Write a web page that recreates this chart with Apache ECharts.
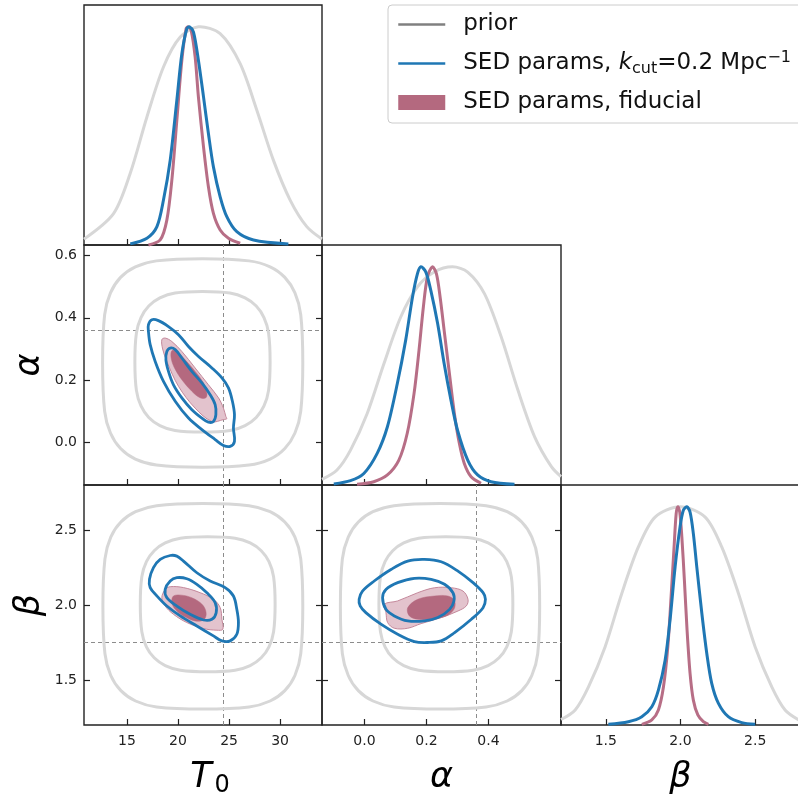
<!DOCTYPE html>
<html>
<head>
<meta charset="utf-8">
<script src="https://cdn.jsdelivr.net/npm/echarts@6/dist/echarts.min.js"></script>
<style>
  html, body { margin: 0; padding: 0; background: #fff; }
  #c { width: 798px; height: 798px; }
</style>
</head>
<body>
<div id="c"></div>
<script>
// ---- parameter ranges, tick values and fiducial (true) values ----
const T0_RANGE = [10.8, 34.1];
const ALPHA_RANGE = [-0.137, 0.634];
const BETA_RANGE = [1.2, 2.8];
const DENS_RANGE = [0, 1.1];
const T0_TICKS = [15, 20, 25, 30];
const ALPHA_X_TICKS = [0.0, 0.2, 0.4];
const ALPHA_Y_TICKS = [0.0, 0.2, 0.4, 0.6];
const BETA_TICKS = [1.5, 2.0, 2.5];
const TRUE_T0 = 24.45, TRUE_ALPHA = 0.36, TRUE_BETA = 1.75;

const NAME_PRIOR = 'prior';
const NAME_KCUT = 'SED params, k_cut=0.2 Mpc^-1';
const NAME_FID = 'SED params, fiducial';

// ---- 1D marginals: [value, normalised density] ----
const t0Prior = [[10.8,0.027],[13.69,0.144],[15.32,0.328],[16.96,0.587],[18.58,0.816],[20.22,0.953],[22.0,1.0],[24.13,0.969],[26.09,0.831],[27.72,0.618],[29.34,0.389],[30.98,0.206],[32.61,0.084],[34.1,0.027]];
const t0Kcut = [[15.33,0.005],[16.96,0.031],[17.94,0.084],[18.58,0.206],[19.24,0.389],[19.89,0.664],[20.38,0.877],[20.87,0.992],[21.13,1.0],[21.52,0.976],[22.0,0.847],[22.5,0.679],[22.98,0.511],[23.47,0.358],[24.13,0.221],[24.78,0.130],[25.76,0.061],[27.39,0.023],[30.81,0.005]];
const t0Fid = [[17.11,0.0],[18.26,0.023],[18.91,0.114],[19.40,0.297],[19.89,0.572],[20.38,0.847],[20.80,0.992],[21.0,1.0],[21.29,0.984],[21.68,0.862],[22.0,0.679],[22.5,0.45],[22.98,0.267],[23.47,0.145],[24.13,0.069],[24.94,0.031],[26.09,0.008]];

const alphaPrior = [[-0.137,0.026],[-0.0885,0.069],[-0.045,0.160],[0.0088,0.328],[0.063,0.557],[0.117,0.770],[0.171,0.908],[0.225,0.976],[0.284,1.0],[0.333,0.976],[0.387,0.877],[0.441,0.679],[0.495,0.435],[0.549,0.221],[0.603,0.084],[0.634,0.038]];
const alphaKcut = [[-0.099,0.005],[-0.045,0.02],[-0.002,0.053],[0.041,0.145],[0.074,0.267],[0.106,0.465],[0.133,0.664],[0.155,0.862],[0.171,0.969],[0.182,1.0],[0.198,0.976],[0.214,0.892],[0.236,0.74],[0.257,0.557],[0.279,0.389],[0.3,0.252],[0.333,0.114],[0.365,0.046],[0.408,0.015],[0.484,0.003]];
const alphaFid = [[-0.024,0.003],[0.030,0.015],[0.074,0.046],[0.111,0.114],[0.138,0.237],[0.160,0.42],[0.176,0.618],[0.190,0.816],[0.203,0.953],[0.219,1.0],[0.232,0.969],[0.244,0.862],[0.257,0.709],[0.274,0.511],[0.29,0.328],[0.306,0.191],[0.322,0.099],[0.344,0.038],[0.376,0.008]];

const betaPrior = [[1.2,0.025],[1.295,0.069],[1.384,0.175],[1.495,0.358],[1.607,0.603],[1.718,0.816],[1.83,0.953],[1.997,1.0],[2.165,0.953],[2.276,0.816],[2.388,0.603],[2.5,0.358],[2.611,0.175],[2.7,0.069],[2.8,0.02]];
const betaKcut = [[1.517,0.003],[1.651,0.015],[1.741,0.038],[1.808,0.084],[1.852,0.160],[1.897,0.297],[1.930,0.481],[1.964,0.725],[1.997,0.908],[2.019,0.984],[2.042,1.0],[2.064,0.976],[2.086,0.877],[2.109,0.725],[2.143,0.511],[2.176,0.328],[2.209,0.191],[2.254,0.099],[2.32,0.038],[2.41,0.011],[2.5,0.003]];
const betaFid = [[1.741,0.003],[1.808,0.023],[1.852,0.069],[1.886,0.175],[1.915,0.358],[1.937,0.587],[1.957,0.816],[1.971,0.969],[1.982,1.0],[1.995,0.976],[2.009,0.862],[2.026,0.664],[2.044,0.435],[2.064,0.237],[2.086,0.114],[2.116,0.046],[2.153,0.015],[2.187,0.003]];

// ---- 2D credible contours (68% inner, 95% outer): [x, y] ----
// T0 vs alpha
const t0AlphaPriorOuter = [[32.22,0.255],[32.02,0.410],[31.45,0.480],[30.46,0.530],[29.02,0.564],[26.95,0.583],[22.42,0.590],[17.89,0.583],[15.83,0.564],[14.38,0.530],[13.39,0.480],[12.82,0.410],[12.62,0.255],[12.82,0.100],[13.39,0.030],[14.38,-0.020],[15.83,-0.054],[17.89,-0.073],[22.42,-0.080],[26.95,-0.073],[29.02,-0.054],[30.46,-0.020],[31.45,0.030],[32.02,0.100]];
const t0AlphaPriorInner = [[29.02,0.259],[28.87,0.351],[28.42,0.401],[27.66,0.438],[26.57,0.464],[25.09,0.480],[22.40,0.485],[19.71,0.480],[18.23,0.464],[17.14,0.438],[16.38,0.401],[15.93,0.351],[15.78,0.259],[15.93,0.167],[16.38,0.117],[17.14,0.080],[18.23,0.054],[19.71,0.038],[22.40,0.033],[25.09,0.038],[26.57,0.054],[27.66,0.080],[28.42,0.117],[28.87,0.167]];
const t0AlphaKcutOuter = [[17.11,0.378],[17.45,0.394],[18.09,0.391],[19.07,0.372],[20.05,0.346],[21.03,0.308],[22.01,0.276],[23.32,0.239],[24.30,0.207],[24.94,0.175],[25.33,0.132],[25.53,0.089],[25.43,0.046],[25.53,0.003],[25.11,-0.013],[24.45,-0.010],[23.64,0.009],[22.34,0.041],[21.03,0.078],[19.73,0.132],[18.58,0.196],[17.77,0.260],[17.28,0.314],[17.11,0.356]];
const t0AlphaKcutInner = [[19.24,0.303],[19.73,0.298],[20.38,0.271],[21.36,0.228],[22.34,0.191],[23.15,0.153],[23.64,0.121],[23.71,0.089],[23.47,0.067],[22.98,0.065],[22.34,0.078],[21.36,0.105],[20.38,0.143],[19.56,0.185],[19.07,0.228],[18.82,0.265],[18.91,0.292]];
const t0AlphaFidOuter = [[18.42,0.330],[18.75,0.335],[19.40,0.324],[20.38,0.292],[21.68,0.239],[22.98,0.185],[23.97,0.143],[24.45,0.110],[24.69,0.083],[24.78,0.076],[24.45,0.073],[23.32,0.067],[21.68,0.110],[20.05,0.180],[18.91,0.260],[18.50,0.300]];
const t0AlphaFidInner = [[19.40,0.294],[19.89,0.292],[20.70,0.265],[21.68,0.228],[22.50,0.191],[22.83,0.158],[22.73,0.143],[22.17,0.143],[21.36,0.164],[20.38,0.201],[19.66,0.239],[19.33,0.271]];

// T0 vs beta
const t0BetaPriorOuter = [[32.22,1.991],[32.02,2.307],[31.45,2.452],[30.46,2.553],[29.02,2.622],[26.96,2.662],[22.44,2.676],[17.91,2.662],[15.85,2.622],[14.41,2.553],[13.42,2.452],[12.85,2.307],[12.65,1.991],[12.85,1.675],[13.42,1.530],[14.41,1.429],[15.85,1.360],[17.91,1.320],[22.44,1.306],[26.96,1.320],[29.02,1.360],[30.46,1.429],[31.45,1.530],[32.02,1.675]];
const t0BetaPriorInner = [[29.51,2.005],[29.36,2.188],[28.91,2.289],[28.15,2.362],[27.07,2.414],[25.59,2.445],[22.91,2.455],[20.23,2.445],[18.75,2.414],[17.67,2.362],[16.91,2.289],[16.46,2.188],[16.31,2.005],[16.46,1.822],[16.91,1.721],[17.67,1.648],[18.75,1.596],[20.23,1.565],[22.91,1.555],[25.59,1.565],[27.07,1.596],[28.15,1.648],[28.91,1.721],[29.36,1.822]];
const t0BetaKcutOuter = [[19.24,2.330],[19.89,2.326],[20.54,2.293],[21.85,2.215],[23.15,2.160],[24.62,2.116],[25.43,2.060],[25.76,1.971],[25.92,1.883],[25.76,1.805],[25.11,1.761],[24.30,1.761],[23.47,1.794],[21.85,1.860],[20.22,1.927],[18.91,1.993],[17.94,2.060],[17.28,2.116],[17.21,2.171],[17.60,2.249],[18.26,2.304]];
const t0BetaKcutInner = [[19.89,2.182],[20.87,2.175],[21.85,2.138],[22.83,2.082],[23.64,2.016],[23.74,1.949],[23.32,1.905],[22.50,1.900],[21.19,1.938],[19.89,1.993],[18.91,2.049],[18.75,2.104],[19.24,2.160]];
const t0BetaFidOuter = [[18.75,2.104],[19.24,2.122],[20.54,2.116],[22.17,2.082],[23.47,2.038],[24.13,1.983],[24.30,1.905],[24.39,1.838],[23.81,1.832],[22.50,1.843],[20.87,1.883],[19.56,1.938],[18.75,1.993],[18.42,2.049]];
const t0BetaFidInner = [[19.56,2.060],[20.54,2.064],[21.68,2.038],[22.50,1.993],[22.76,1.938],[22.50,1.900],[21.68,1.894],[20.54,1.927],[19.73,1.971],[19.40,2.016]];

// alpha vs beta
const alphaBetaPriorOuter = [[0.5652,1.991],[0.5589,2.307],[0.5399,2.452],[0.5074,2.553],[0.4602,2.622],[0.3923,2.662],[0.2438,2.676],[0.0953,2.662],[0.0274,2.622],[-0.0198,2.553],[-0.0523,2.452],[-0.0713,2.307],[-0.0777,1.991],[-0.0713,1.675],[-0.0523,1.530],[-0.0198,1.429],[0.0274,1.360],[0.0953,1.320],[0.2438,1.306],[0.3923,1.320],[0.4602,1.360],[0.5074,1.429],[0.5399,1.530],[0.5589,1.675]];
const alphaBetaPriorInner = [[0.4787,2.005],[0.4738,2.188],[0.4591,2.289],[0.4343,2.362],[0.3988,2.414],[0.3504,2.445],[0.2627,2.455],[0.1750,2.445],[0.1266,2.414],[0.0911,2.362],[0.0663,2.289],[0.0516,2.188],[0.0466,2.005],[0.0516,1.822],[0.0663,1.721],[0.0911,1.648],[0.1266,1.596],[0.1750,1.565],[0.2627,1.555],[0.3504,1.565],[0.3988,1.596],[0.4343,1.648],[0.4591,1.721],[0.4738,1.822]];
const alphaBetaKcutOuter = [[-0.0172,2.038],[-0.0064,2.093],[0.0314,2.160],[0.0855,2.237],[0.1395,2.293],[0.1935,2.304],[0.2475,2.288],[0.3016,2.226],[0.3502,2.149],[0.3826,2.082],[0.3902,2.038],[0.3826,1.982],[0.3448,1.905],[0.2908,1.816],[0.2475,1.761],[0.2043,1.750],[0.1611,1.756],[0.1071,1.805],[0.0531,1.872],[0.0044,1.949],[-0.0139,1.994]];
const alphaBetaKcutInner = [[0.0584,2.049],[0.0693,2.104],[0.1071,2.149],[0.1611,2.178],[0.2151,2.171],[0.2583,2.138],[0.2854,2.082],[0.2886,2.027],[0.2746,1.971],[0.2367,1.916],[0.1935,1.894],[0.1395,1.894],[0.0963,1.927],[0.0693,1.971]];
const alphaBetaFidOuter = [[0.0639,2.005],[0.1071,2.027],[0.1719,2.082],[0.2259,2.115],[0.2800,2.115],[0.3178,2.093],[0.3340,2.038],[0.3286,1.994],[0.3016,1.960],[0.2475,1.916],[0.1827,1.876],[0.1395,1.845],[0.0963,1.845],[0.0747,1.883],[0.0693,1.949]];
const alphaBetaFidInner = [[0.1395,1.982],[0.1719,2.038],[0.2259,2.060],[0.2692,2.060],[0.2908,2.027],[0.2886,1.971],[0.2638,1.927],[0.2151,1.905],[0.1719,1.905],[0.1449,1.927]];

// ---- styling ----
const FONT = 'DejaVu Sans';
const C_PRIOR = '#d7d7d7';
const C_PRIOR_KEY = '#808080';
const C_KCUT = '#1f77b4';
const C_FID_LINE = '#b76e86';
const C_FID_DARK = '#b4697f';
const C_FID_LIGHT = '#e3c3cd';
const C_FID_EDGE = '#c4889b';
const C_AXIS = '#222';

// panel boxes of the triangle
const panels = [
  { left: 84,  top: 5,   width: 238, height: 240 }, // T0 marginal
  { left: 84,  top: 245, width: 238, height: 240 }, // T0 - alpha
  { left: 322, top: 245, width: 239, height: 240 }, // alpha marginal
  { left: 84,  top: 485, width: 238, height: 240 }, // T0 - beta
  { left: 322, top: 485, width: 239, height: 240 }, // alpha - beta
  { left: 561, top: 485, width: 239, height: 240 }  // beta marginal
];

const grid = panels.map(p => Object.assign({
  show: true, borderColor: C_AXIS, borderWidth: 1.4, backgroundColor: 'transparent',
  containLabel: false, outerBoundsMode: 'none'
}, p));

function fmt(decimals) { return v => Number(v).toFixed(decimals); }

function tickedAxis(gridIndex, range, ticks, decimals, showLabel, margin, extra) {
  return Object.assign({
    type: 'value', gridIndex, min: range[0], max: range[1],
    axisLine: { show: false, onZero: false },
    splitLine: { show: false },
    axisTick: { show: true, inside: true, length: 6, customValues: ticks, lineStyle: { color: C_AXIS, width: 1.2 } },
    axisLabel: {
      show: showLabel, customValues: ticks, margin,
      fontFamily: FONT, fontSize: 14, color: C_AXIS, formatter: fmt(decimals)
    }
  }, extra || {});
}

function densityAxis(gridIndex) {
  return { type: 'value', gridIndex, min: DENS_RANGE[0], max: DENS_RANGE[1], show: false, axisLine: { onZero: false } };
}

const bigName = { fontFamily: FONT, fontStyle: 'italic', fontSize: 35, color: '#000', verticalAlign: 'middle' };

const xAxis = [
  tickedAxis(0, T0_RANGE, T0_TICKS, 0, false, 9),
  tickedAxis(1, T0_RANGE, T0_TICKS, 0, false, 9),
  tickedAxis(2, ALPHA_RANGE, ALPHA_X_TICKS, 1, false, 9),
  tickedAxis(3, T0_RANGE, T0_TICKS, 0, true, 9, {
    name: '{t|T}{s|0}', nameLocation: 'middle', nameGap: 53,
    nameTextStyle: {
      verticalAlign: 'middle', padding: [0, 0, 0, 14],
      rich: {
        t: { fontFamily: FONT, fontStyle: 'italic', fontSize: 35, lineHeight: 40, color: '#000' },
        s: { fontFamily: FONT, fontSize: 24, lineHeight: 24, verticalAlign: 'bottom', color: '#000', padding: [0, 0, 0, 3] }
      }
    }
  }),
  tickedAxis(4, ALPHA_RANGE, ALPHA_X_TICKS, 1, true, 9, { name: 'α', nameLocation: 'middle', nameGap: 53, nameTextStyle: bigName }),
  tickedAxis(5, BETA_RANGE, BETA_TICKS, 1, true, 9, { name: 'β', nameLocation: 'middle', nameGap: 53, nameTextStyle: bigName })
];

const yAxis = [
  densityAxis(0),                                                                          // 0
  tickedAxis(1, ALPHA_RANGE, ALPHA_Y_TICKS, 1, true, 7,                                     // 1
    { name: 'α', nameLocation: 'middle', nameGap: 54, nameRotate: 90, nameTextStyle: bigName }),
  tickedAxis(1, ALPHA_RANGE, ALPHA_Y_TICKS, 1, false, 7, { position: 'right' }),            // 2
  densityAxis(2),                                                                          // 3
  tickedAxis(3, BETA_RANGE, BETA_TICKS, 1, true, 7,                                         // 4
    { name: 'β', nameLocation: 'middle', nameGap: 54, nameRotate: 90, nameTextStyle: bigName }),
  tickedAxis(3, BETA_RANGE, BETA_TICKS, 1, false, 7, { position: 'right' }),                // 5
  tickedAxis(4, BETA_RANGE, BETA_TICKS, 1, false, 7),                                       // 6
  tickedAxis(4, BETA_RANGE, BETA_TICKS, 1, false, 7, { position: 'right' }),                // 7
  densityAxis(5)                                                                           // 8
];

// ---- series builders ----
// legend key entries (line icons); they carry no points
function legendKey(name, color) {
  return {
    type: 'line', name, xAxisIndex: 0, yAxisIndex: 0, data: [],
    symbol: 'none', lineStyle: { color, width: 3 }, itemStyle: { color },
    silent: true, animation: false
  };
}

// smooth density curve through the sampled points
function marginal(name, pts, xi, yi, color, z) {
  return {
    type: 'custom', name, coordinateSystem: 'cartesian2d',
    xAxisIndex: xi, yAxisIndex: yi, data: pts, z, silent: true, animation: false,
    renderItem: (params, api) => {
      if (params.dataIndex !== 0) return null;
      return {
        type: 'polyline',
        shape: { points: pts.map(p => api.coord(p)), smooth: 0.3 },
        style: { fill: null, stroke: color, lineWidth: 3, lineJoin: 'round' }
      };
    }
  };
}

// closed credible-region outline or fill
function contour(name, pts, xi, yi, style, z, markLine) {
  const s = {
    type: 'custom', name, coordinateSystem: 'cartesian2d',
    xAxisIndex: xi, yAxisIndex: yi, data: pts, z, silent: true, animation: false,
    renderItem: (params, api) => {
      if (params.dataIndex !== 0) return null;
      return {
        type: 'polygon',
        shape: { points: pts.map(p => api.coord(p)), smooth: 0.35 },
        style: Object.assign({}, style)
      };
    }
  };
  if (markLine) s.markLine = markLine;
  return s;
}

function truthLines(list) {
  return {
    silent: true, symbol: ['none', 'none'], animation: false, z: 1,
    label: { show: false },
    lineStyle: { color: '#8c8c8c', width: 1, type: [4, 3] },
    data: list
  };
}

const priorStyle = { fill: null, stroke: C_PRIOR, lineWidth: 3 };
const kcutStyle = { fill: null, stroke: C_KCUT, lineWidth: 2.8 };
const fidLight = { fill: C_FID_LIGHT, stroke: C_FID_EDGE, lineWidth: 1 };
const fidDark = { fill: C_FID_DARK, stroke: C_FID_DARK, lineWidth: 0.5 };

const series = [
  legendKey(NAME_PRIOR, C_PRIOR_KEY),
  legendKey(NAME_KCUT, C_KCUT),
  legendKey(NAME_FID, C_FID_DARK),

  // marginals
  marginal(NAME_PRIOR, t0Prior, 0, 0, C_PRIOR, 2),
  marginal(NAME_KCUT, t0Kcut, 0, 0, C_KCUT, 5),
  marginal(NAME_FID, t0Fid, 0, 0, C_FID_LINE, 4),
  marginal(NAME_PRIOR, alphaPrior, 2, 3, C_PRIOR, 2),
  marginal(NAME_KCUT, alphaKcut, 2, 3, C_KCUT, 5),
  marginal(NAME_FID, alphaFid, 2, 3, C_FID_LINE, 4),
  marginal(NAME_PRIOR, betaPrior, 5, 8, C_PRIOR, 2),
  marginal(NAME_KCUT, betaKcut, 5, 8, C_KCUT, 5),
  marginal(NAME_FID, betaFid, 5, 8, C_FID_LINE, 4),

  // T0 - alpha
  contour(NAME_PRIOR, t0AlphaPriorOuter, 1, 1, priorStyle, 2,
    truthLines([{ xAxis: TRUE_T0 }, { yAxis: TRUE_ALPHA }])),
  contour(NAME_PRIOR, t0AlphaPriorInner, 1, 1, priorStyle, 2),
  contour(NAME_FID, t0AlphaFidOuter, 1, 1, fidLight, 3),
  contour(NAME_FID, t0AlphaFidInner, 1, 1, fidDark, 4),
  contour(NAME_KCUT, t0AlphaKcutOuter, 1, 1, kcutStyle, 5),
  contour(NAME_KCUT, t0AlphaKcutInner, 1, 1, kcutStyle, 5),

  // T0 - beta
  contour(NAME_PRIOR, t0BetaPriorOuter, 3, 4, priorStyle, 2,
    truthLines([{ xAxis: TRUE_T0 }, { yAxis: TRUE_BETA }])),
  contour(NAME_PRIOR, t0BetaPriorInner, 3, 4, priorStyle, 2),
  contour(NAME_FID, t0BetaFidOuter, 3, 4, fidLight, 3),
  contour(NAME_FID, t0BetaFidInner, 3, 4, fidDark, 4),
  contour(NAME_KCUT, t0BetaKcutOuter, 3, 4, kcutStyle, 5),
  contour(NAME_KCUT, t0BetaKcutInner, 3, 4, kcutStyle, 5),

  // alpha - beta
  contour(NAME_PRIOR, alphaBetaPriorOuter, 4, 6, priorStyle, 2,
    truthLines([{ xAxis: TRUE_ALPHA }, { yAxis: TRUE_BETA }])),
  contour(NAME_PRIOR, alphaBetaPriorInner, 4, 6, priorStyle, 2),
  contour(NAME_FID, alphaBetaFidOuter, 4, 6, fidLight, 3),
  contour(NAME_FID, alphaBetaFidInner, 4, 6, fidDark, 4),
  contour(NAME_KCUT, alphaBetaKcutOuter, 4, 6, kcutStyle, 5),
  contour(NAME_KCUT, alphaBetaKcutInner, 4, 6, kcutStyle, 5)
];

const legendText = {};
legendText[NAME_PRIOR] = '{sp|}prior';
legendText[NAME_KCUT] = '{sp|}SED params, {k|k}{sub|cut}=0.2 Mpc{sup|−1}';
legendText[NAME_FID] = '{sp|}SED params, fiducial';

const hiddenMarker = { color: 'rgba(0,0,0,0)', borderWidth: 0, opacity: 0 };

const option = {
  backgroundColor: '#fff',
  animation: false,
  grid, xAxis, yAxis, series,
  legend: {
    orient: 'vertical', left: 388, top: 5,
    padding: [6, 24, 7, 9], itemGap: 12,
    itemWidth: 47, itemHeight: 15,
    borderColor: '#cccccc', borderWidth: 1, borderRadius: 4,
    backgroundColor: 'rgba(255,255,255,0.85)',
    selectedMode: false, z: 20,
    data: [
      { name: NAME_PRIOR, lineStyle: { color: C_PRIOR_KEY, width: 2.5 }, itemStyle: hiddenMarker },
      { name: NAME_KCUT, lineStyle: { color: C_KCUT, width: 2.5 }, itemStyle: hiddenMarker },
      { name: NAME_FID, icon: 'rect', itemStyle: { color: C_FID_DARK, borderWidth: 0 } }
    ],
    formatter: name => legendText[name],
    textStyle: {
      fontFamily: FONT, fontSize: 23, color: '#111', lineHeight: 27,
      rich: {
        sp: { width: 13 },
        k: { fontFamily: FONT, fontStyle: 'italic', fontSize: 23, color: '#111' },
        sub: { fontFamily: FONT, fontSize: 16, lineHeight: 15, verticalAlign: 'bottom', color: '#111' },
        sup: { fontFamily: FONT, fontSize: 16, lineHeight: 15, verticalAlign: 'top', color: '#111' }
      }
    }
  }
};

const chart = echarts.init(document.getElementById('c'), null, { renderer: 'canvas', width: 798, height: 798 });
chart.setOption(option);
</script>
</body>
</html>
